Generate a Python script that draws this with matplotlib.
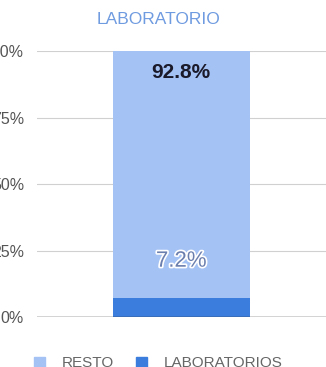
import matplotlib
matplotlib.use("Agg")
import matplotlib.pyplot as plt
import matplotlib.patheffects as pe
from matplotlib.patches import Patch
from matplotlib.ticker import FuncFormatter

plt.rcParams['font.family'] = ['Liberation Sans', 'DejaVu Sans']

categories = ["LABORATORIO"]
series_names = ["RESTO", "LABORATORIOS"]
laboratorios = [7.2]
resto = [92.8]
yticks = [0, 25, 50, 75, 100]

light = "#a4c2f4"
dark = "#3b7ddd"

fig = plt.figure(figsize=(3.26, 3.67), dpi=100)
ax = fig.add_axes([0.112, 0.136, 0.888, 0.725])

x = [0]
ax.bar(x, laboratorios, width=0.475, color=dark, zorder=3)
ax.bar(x, resto, width=0.475, bottom=laboratorios, color=light, zorder=3)

ax.set_xlim(-0.5, 0.5)
ax.set_ylim(0, 100)
ax.set_yticks(yticks)
ax.yaxis.set_major_formatter(FuncFormatter(lambda v, p: f"{v:.0f}%"))
ax.tick_params(axis='y', length=0, pad=9, labelsize=11.5, labelcolor="#555555")
ax.set_xticks([])
for s in ax.spines.values():
    s.set_visible(False)
ax.grid(axis='y', color="#d0d0d0", linewidth=0.8, zorder=0)
ax.axhline(0, color="#333333", linewidth=1.0, zorder=4)

# value labels
ax.text(0, 92.0, f"{resto[0]}%", ha='center', va='center',
        fontsize=15, fontweight='bold', color="#1a1a2a", zorder=5)
t = ax.text(0, 21.0, f"{laboratorios[0]}%", ha='center', va='center',
            fontsize=16, color="#6b7fae", zorder=5)
t.set_path_effects([pe.withStroke(linewidth=2.4, foreground="white")])

fig.text(0.487, 0.946, categories[0], ha='center', va='center', fontsize=12.5,
         color="#6f9be0")

handles = [Patch(color=light), Patch(color=dark)]
fig.legend(handles, series_names, loc='center', bbox_to_anchor=(0.485, 0.01),
           ncol=2, frameon=False, fontsize=11, handlelength=0.7, handleheight=0.7,
           columnspacing=1.45, handletextpad=1.1, labelcolor="#666666",
           borderpad=0.0)

fig.savefig("out.png", dpi=100)
